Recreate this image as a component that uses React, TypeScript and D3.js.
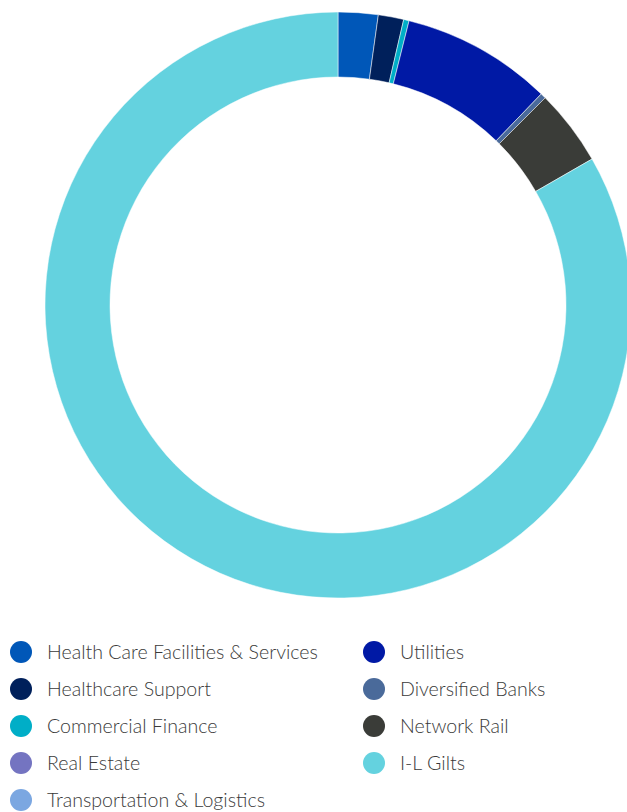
import React from "react";
import * as d3 from "d3";

const categories = [
  "Health Care Facilities & Services",
  "Healthcare Support",
  "Commercial Finance",
  "Real Estate",
  "Transportation & Logistics",
  "Utilities",
  "Diversified Banks",
  "Network Rail",
  "I-L Gilts",
];
const values = [2.2, 1.4, 0.3, 0, 0, 8.3, 0.3, 4.2, 83.3];
const colors = [
  "#0057B8",
  "#00205B",
  "#00AEC7",
  "#7474C1",
  "#7BA7E1",
  "#0019A5",
  "#4A6A9A",
  "#3A3C38",
  "#64D2DF",
];

export default function App() {
  const W = 627, H = 812;
  const cx = 338, cy = 305, R = 293, r = 228;
  const data = categories.map((c, i) => ({ c, v: values[i], col: colors[i] }));
  const pie = d3.pie<any>().value((d) => d.v).sort(null);
  const arc = d3.arc<any>().innerRadius(r).outerRadius(R);
  const arcs = pie(data);
  const leftX = 21, rightX = 374, y0 = 652, dy = 37;
  return (
    <svg width={W} height={H} style={{ position: "absolute", left: 0, top: 0 }}>
      <g transform={`translate(${cx},${cy})`}>
        {arcs.filter((a) => a.data.v > 0).map((a, i) => (
          <path key={i} d={arc(a) as string} fill={a.data.col} stroke="#fff" strokeWidth={0.5} />
        ))}
      </g>
      {data.map((d, i) => {
        const col = i < 5 ? 0 : 1;
        const row = i < 5 ? i : i - 5;
        const x = col === 0 ? leftX : rightX;
        const y = y0 + row * dy;
        return (
          <g key={d.c}>
            <circle cx={x} cy={y} r={11} fill={d.col} />
            <text x={x + 26} y={y} dy="0.35em" fontFamily="Lato, 'Noto Sans', sans-serif" fontSize={19.6} fill="#3a3a3a" fontWeight={300}>
              {d.c}
            </text>
          </g>
        );
      })}
    </svg>
  );
}
